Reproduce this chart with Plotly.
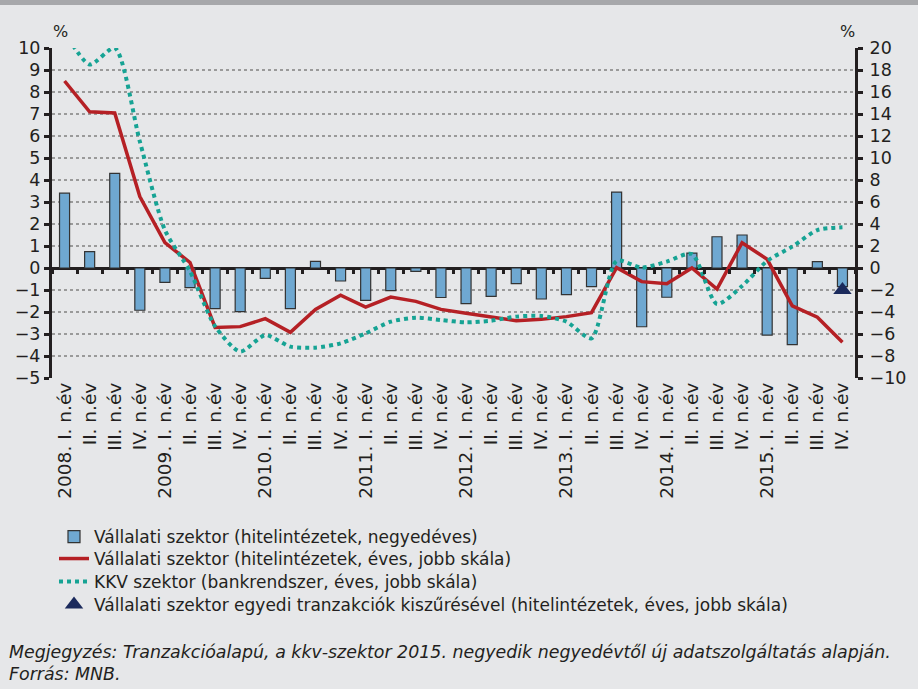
import plotly.graph_objects as go

# ---------------- data ----------------
quarter_labels = [
    "2008. I. n.év", "II. n.év", "III. n.év", "IV. n.év",
    "2009. I. n.év", "II. n.év", "III. n.év", "IV. n.év",
    "2010. I. n.év", "II. n.év", "III. n.év", "IV. n.év",
    "2011. I. n.év", "II. n.év", "III. n.év", "IV. n.év",
    "2012. I. n.év", "II. n.év", "III. n.év", "IV. n.év",
    "2013. I. n.év", "II. n.év", "III. n.év", "IV. n.év",
    "2014. I. n.év", "II. n.év", "III. n.év", "IV. n.év",
    "2015. I. n.év", "II. n.év", "III. n.év", "IV. n.év",
]
positions = list(range(len(quarter_labels)))

corp_quarterly = [3.4, 0.74, 4.3, -1.92, -0.65, -0.89, -1.85, -1.98,
                  -0.47, -1.85, 0.30, -0.59, -1.47, -1.03, -0.15, -1.34,
                  -1.62, -1.29, -0.71, -1.41, -1.21, -0.85, 3.45, -2.67,
                  -1.33, 0.68, 1.42, 1.50, -3.05, -3.48, 0.29, -0.85]

corp_annual = [17.0, 14.2, 14.1, 6.5, 2.3, 0.5, -5.4, -5.33,
               -4.6, -5.85, -3.76, -2.48, -3.55, -2.64, -3.03, -3.76,
               -4.12, -4.42, -4.79, -4.67, -4.42, -4.06, 0.03, -1.24,
               -1.42, 0.0, -1.91, 2.3, 0.79, -3.45, -4.48, -6.76]

sme_annual = [21.5, 18.5, 20.0, 11.5, 3.45, -0.3, -5.3, -7.6,
              -6.1, -7.15, -7.24, -6.85, -5.94, -4.88, -4.52, -4.73,
              -4.94, -4.79, -4.42, -4.36, -4.88, -6.39, 0.64, 0.03,
              0.58, 1.27, -3.27, -1.64, 0.64, 1.94, 3.45, 3.7]

filtered_x = [31]
filtered_y = [-2.0]

left_ticks = list(range(-5, 11))
right_ticks = list(range(-10, 21, 2))

names = [
    "Vállalati szektor (hitelintézetek, negyedéves)",
    "Vállalati szektor (hitelintézetek, éves, jobb skála)",
    "KKV szektor (bankrendszer, éves, jobb skála)",
    "Vállalati szektor egyedi tranzakciók kiszűrésével (hitelintézetek, éves, jobb skála)",
]

# ---------------- figure ----------------
BG = "#E6E7E9"
AX = "#231F20"
FAM = "DejaVu Sans, Verdana, sans-serif"
TICKFONT = dict(family=FAM, size=17.5, color=AX)
LEGFONT = dict(family=FAM, size=17, color=AX)

fig = go.Figure()

fig.add_trace(go.Bar(
    x=positions, y=corp_quarterly, name=names[0], width=0.4,
    marker=dict(color="#6FA8D1", line=dict(color="#333333", width=1.2)),
    yaxis="y", xaxis="x", legend="legend"))

fig.add_trace(go.Scatter(
    x=positions, y=corp_annual, name=names[1], mode="lines",
    line=dict(color="#B52025", width=3.5), yaxis="y2", xaxis="x", legend="legend2"))

fig.add_trace(go.Scatter(
    x=positions, y=sme_annual, name=names[2], mode="lines",
    line=dict(color="#16A394", width=4, dash="dot", shape="spline", smoothing=0.7),
    yaxis="y2", xaxis="x", legend="legend3"))

fig.add_trace(go.Scatter(
    x=filtered_x, y=filtered_y, name=names[3], mode="markers",
    marker=dict(symbol="triangle-up", size=16, color="#1B2A5C"),
    yaxis="y2", xaxis="x", legend="legend4"))

L, R, T, B = 52, 63, 48, 311
W, H = 918, 689
plot_h = H - T - B
plot_w = W - L - R
zero_frac = 5 / 15


def leg(row_px):
    return dict(
        x=2 / plot_w, y=(378 - row_px) / plot_h, xanchor="left", yanchor="middle",
        orientation="v", bgcolor="rgba(0,0,0,0)", font=LEGFONT, itemwidth=30,
    )


fig.update_layout(
    width=W, height=H,
    margin=dict(l=L, r=R, t=T, b=B, pad=0, autoexpand=False),
    paper_bgcolor=BG, plot_bgcolor=BG,
    bargap=0.6,
    showlegend=True,
    legend=leg(537), legend2=leg(559), legend3=leg(582), legend4=leg(605),
    xaxis=dict(
        range=[-0.5, 31.5], tickmode="array", tickvals=positions,
        ticktext=quarter_labels, tickangle=-90, ticks="", showgrid=False,
        showline=False, zeroline=False, automargin=False,
        tickfont=dict(family=FAM, size=18.5, color=AX),
    ),
    xaxis2=dict(
        matches="x", overlaying="x", anchor="free", position=zero_frac,
        tickmode="array", tickvals=[p - 0.5 for p in positions] + [31.5],
        ticks="outside", ticklen=5, tickwidth=2.5, tickcolor=AX,
        showticklabels=False, showgrid=False, showline=False, zeroline=False,
    ),
    yaxis=dict(
        range=[-5, 10], tickmode="array", tickvals=left_ticks,
        ticks="outside", ticklen=5, tickwidth=2.5, tickcolor=AX,
        showline=True, linewidth=3, linecolor=AX,
        showgrid=True, gridcolor="#9A9A9A", griddash="dot", gridwidth=1.5,
        zeroline=True, zerolinecolor=AX, zerolinewidth=2.5,
        tickfont=TICKFONT, automargin=False,
    ),
    yaxis2=dict(
        range=[-10, 20], tickmode="array", tickvals=right_ticks,
        overlaying="y", side="right", anchor="x",
        ticks="outside", ticklen=5, tickwidth=2.5, tickcolor=AX,
        showline=True, linewidth=3, linecolor=AX,
        showgrid=False, zeroline=False, ticklabelstandoff=3,
        tickfont=TICKFONT, automargin=False,
    ),
)

# helper trace so the zero-line tick axis is drawn
fig.add_trace(go.Scatter(x=[None], y=[None], xaxis="x2", yaxis="y",
                         showlegend=False, hoverinfo="skip"))

# decorative top band
fig.add_shape(type="rect", xref="paper", yref="paper",
              x0=-L / plot_w, x1=(W - L) / plot_w, y0=(378 - 5) / plot_h, y1=378 / plot_h,
              fillcolor="#A7A8AB", line=dict(width=0), layer="above")

# % labels
fig.add_annotation(text="%", xref="paper", yref="paper", x=(60 - L) / plot_w, y=(378 - 31) / plot_h,
                   xanchor="center", yanchor="middle",
                   showarrow=False, font=dict(family=FAM, size=16, color=AX))
fig.add_annotation(text="%", xref="paper", yref="paper", x=(847 - L) / plot_w, y=(378 - 31) / plot_h,
                   xanchor="center", yanchor="middle",
                   showarrow=False, font=dict(family=FAM, size=16, color=AX))

NOTEFONT = dict(family=FAM, size=17.4, color=AX)
fig.add_annotation(
    text="<i>Megjegyzés: Tranzakcióalapú, a kkv-szektor 2015. negyedik negyedévtől új adatszolgáltatás alapján.</i>",
    xref="paper", yref="paper", x=(7 - L) / plot_w, y=(378 - 652) / plot_h,
    xanchor="left", yanchor="middle", showarrow=False, font=NOTEFONT)
fig.add_annotation(
    text="<i>Forrás: MNB.</i>",
    xref="paper", yref="paper", x=(7 - L) / plot_w, y=(378 - 674) / plot_h,
    xanchor="left", yanchor="middle", showarrow=False, font=NOTEFONT)

fig.write_html("out.html", config={"displayModeBar": False},
               post_script="document.body.style.margin='0px';")
